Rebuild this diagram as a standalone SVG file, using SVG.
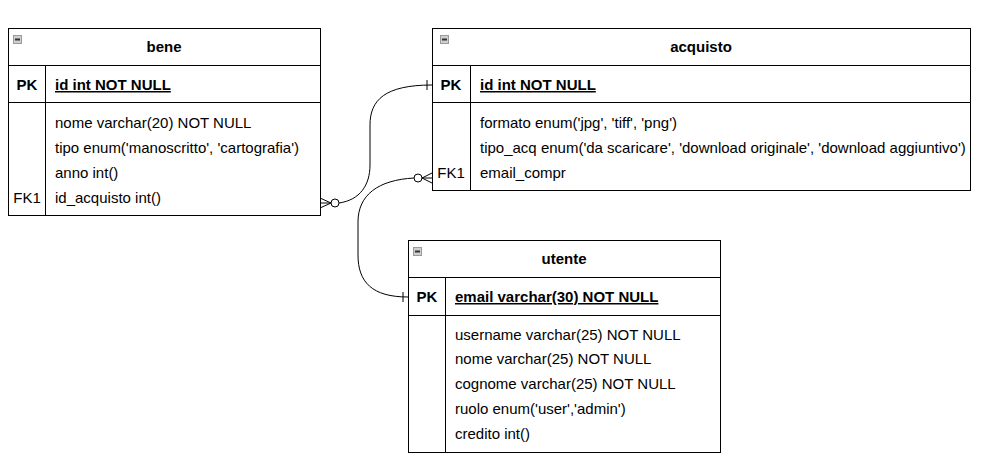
<svg xmlns="http://www.w3.org/2000/svg" width="981" height="462" viewBox="0 0 981 462">
<style>
.box{fill:#fff;stroke:#000;stroke-width:1}
.ln{stroke:#000;stroke-width:1;fill:none}
.t{font-family:"Liberation Sans",Arial,sans-serif;font-size:15px;fill:#000}
.b{font-weight:bold}
.c{text-anchor:middle}
.u{text-decoration:underline}
.ic{fill:#cfcfcf;stroke:#9a9a9a;stroke-width:1}
.icl{stroke:#333;stroke-width:2}
.circ{fill:#fff;stroke:#000;stroke-width:1}
</style>
<rect width="981" height="462" fill="#fff"/>
<g id="connectors">
  <path class="ln" d="M 339 203 C 360 200, 370 185, 370 165 L 370 125 C 370 100, 385 85, 432 85"/>
  <path class="ln" d="M 320 198 L 331 203 M 320 203 L 331 203 M 320 208 L 331 203"/>
  <circle class="circ" cx="335" cy="203" r="4"/>
  <path class="ln" d="M 427 80 L 427 90"/>
  <path class="ln" d="M 414 178 C 378 180, 358 195, 358 222 L 358 255 C 358 282, 372 297, 408 297"/>
  <path class="ln" d="M 432 173 L 422 178 M 432 178 L 422 178 M 432 183 L 422 178"/>
  <circle class="circ" cx="418" cy="178" r="4"/>
  <path class="ln" d="M 403 292 L 403 302"/>
</g>
<g id="bene">
  <rect class="box" x="8.5" y="28.5" width="312" height="187"/>
  <path class="ln" d="M 8.5 65.5 H 320.5 M 8.5 102.5 H 320.5 M 45.5 65.5 V 215.5"/>
  <rect class="ic" x="13.5" y="35.5" width="8" height="8"/>
  <line class="icl" x1="15" y1="39.5" x2="20" y2="39.5"/>
  <text class="t b c" x="164" y="52">bene</text>
  <text class="t b c" x="27" y="90">PK</text>
  <text class="t b u" x="55" y="90">id int NOT NULL</text>
  <text class="t" x="55" y="128">nome varchar(20) NOT NULL</text>
  <text class="t" x="55" y="153">tipo enum('manoscritto', 'cartografia')</text>
  <text class="t" x="55" y="178">anno int()</text>
  <text class="t c" x="27" y="203">FK1</text>
  <text class="t" x="55" y="203">id_acquisto int()</text>
</g>
<g id="acquisto">
  <rect class="box" x="432.5" y="28.5" width="538" height="162"/>
  <path class="ln" d="M 432.5 65.5 H 970.5 M 432.5 102.5 H 970.5 M 470.5 65.5 V 190.5"/>
  <rect class="ic" x="440.5" y="35.5" width="8" height="8"/>
  <line class="icl" x1="442" y1="39.5" x2="447" y2="39.5"/>
  <text class="t b c" x="701" y="52">acquisto</text>
  <text class="t b c" x="451" y="90">PK</text>
  <text class="t b u" x="480" y="90">id int NOT NULL</text>
  <text class="t" x="480" y="128">formato enum('jpg', 'tiff', 'png')</text>
  <text class="t" x="480" y="153">tipo_acq enum('da scaricare', 'download originale', 'download aggiuntivo')</text>
  <text class="t c" x="451" y="178">FK1</text>
  <text class="t" x="480" y="178">email_compr</text>
</g>
<g id="utente">
  <rect class="box" x="408.5" y="240.5" width="312" height="212"/>
  <path class="ln" d="M 408.5 277.5 H 720.5 M 408.5 315.5 H 720.5 M 445.5 277.5 V 452.5"/>
  <rect class="ic" x="413.5" y="247.5" width="8" height="8"/>
  <line class="icl" x1="415" y1="251.5" x2="420" y2="251.5"/>
  <text class="t b c" x="564" y="264">utente</text>
  <text class="t b c" x="427" y="302">PK</text>
  <text class="t b u" x="455" y="302">email varchar(30) NOT NULL</text>
  <text class="t" x="455" y="340">username varchar(25) NOT NULL</text>
  <text class="t" x="455" y="364">nome varchar(25) NOT NULL</text>
  <text class="t" x="455" y="389">cognome varchar(25) NOT NULL</text>
  <text class="t" x="455" y="414">ruolo enum('user','admin')</text>
  <text class="t" x="455" y="439">credito int()</text>
</g>
</svg>
